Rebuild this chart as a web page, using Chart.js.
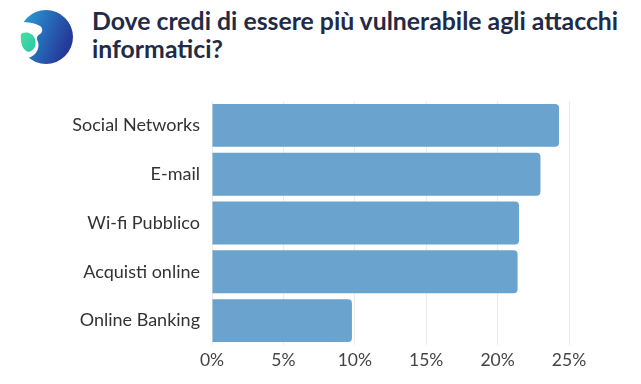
<!DOCTYPE html>
<html>
<head>
<meta charset="utf-8">
<script src="https://cdn.jsdelivr.net/npm/chart.js@4"></script>
<style>
  body { margin: 0; background: #fff; }
  #wrap { position: relative; width: 641px; height: 384px; }
  #logo { position: absolute; left: 0; top: 0; }
  #title {
    position: absolute; left: 92px; top: 7px; width: 548px;
    font-family: Lato, sans-serif; font-weight: bold; font-size: 24.8px;
    line-height: 28px; color: #1f2b47;
  }
  canvas { position: absolute; left: 0; top: 0; }
</style>
</head>
<body>
<div id="wrap">
  <svg id="logo" width="90" height="75" viewBox="0 0 90 75">
    <defs>
      <linearGradient id="g" x1="0" y1="0" x2="1" y2="0.4">
        <stop offset="0" stop-color="#2ba6dc"/>
        <stop offset="1" stop-color="#25399a"/>
      </linearGradient>
      <linearGradient id="g2" x1="0" y1="0" x2="1" y2="1">
        <stop offset="0" stop-color="#45e29a"/>
        <stop offset="1" stop-color="#2cc3b0"/>
      </linearGradient>
    </defs>
    <circle cx="46" cy="37" r="27" fill="url(#g)"/>
    <path d="M16 22 C24 22 34 22 40 26 C43 28 43 32 40 34 C37 36 36 38 38 42 C40 48 36 56 28 58 C20 60 16 56 16 50 Z" fill="#fff"/>
    <path d="M21 34 C26 31 33 33 35 39 C37 45 34 51 28 52 C23 50 20 44 21 34 Z" fill="url(#g2)"/>
  </svg>
  <div id="title">Dove credi di essere più vulnerabile agli attacchi informatici?</div>
  <canvas id="chart" width="641" height="384"></canvas>
</div>
<script>
// data
var categories = ["Social Networks", "E-mail", "Wi-fi Pubblico", "Acquisti online", "Online Banking"];
var values = [24.3, 23.0, 21.5, 21.4, 9.8];
var tickValues = [0, 5, 10, 15, 20, 25];

var ctx = document.getElementById("chart").getContext("2d");
new Chart(ctx, {
  type: "bar",
  data: {
    labels: categories,
    datasets: [
      {
        data: values,
        backgroundColor: "#6aa3cd",
        borderRadius: 4,
        borderSkipped: "start",
        barPercentage: 0.88,
        categoryPercentage: 1,
      },
    ],
  },
  options: {
    indexAxis: "y",
    responsive: false,
    animation: false,
    layout: { padding: { top: 101, right: 72, left: 0, bottom: 0 } },
    plugins: {
      legend: { display: false },
      tooltip: { enabled: false },
    },
    scales: {
      x: {
        min: 0,
        max: 25,
        afterBuildTicks: function (scale) {
          scale.ticks = tickValues.map(function (v) { return { value: v }; });
        },
        afterFit: function (scale) { scale.height = 39; },
        grid: { color: "#ececec", drawTicks: false },
        border: { display: false },
        ticks: {
          padding: 5,
          color: "#444",
          font: { family: "Lato", size: 17.5 },
          callback: function (v) { return v + "%"; },
        },
      },
      y: {
        afterFit: function (scale) { scale.width = 212; },
        grid: { display: false, drawTicks: false },
        border: { display: false },
        ticks: {
          padding: 12,
          color: "#333",
          font: { family: "Lato", size: 18 },
        },
      },
    },
  },
});
</script>
</body>
</html>
